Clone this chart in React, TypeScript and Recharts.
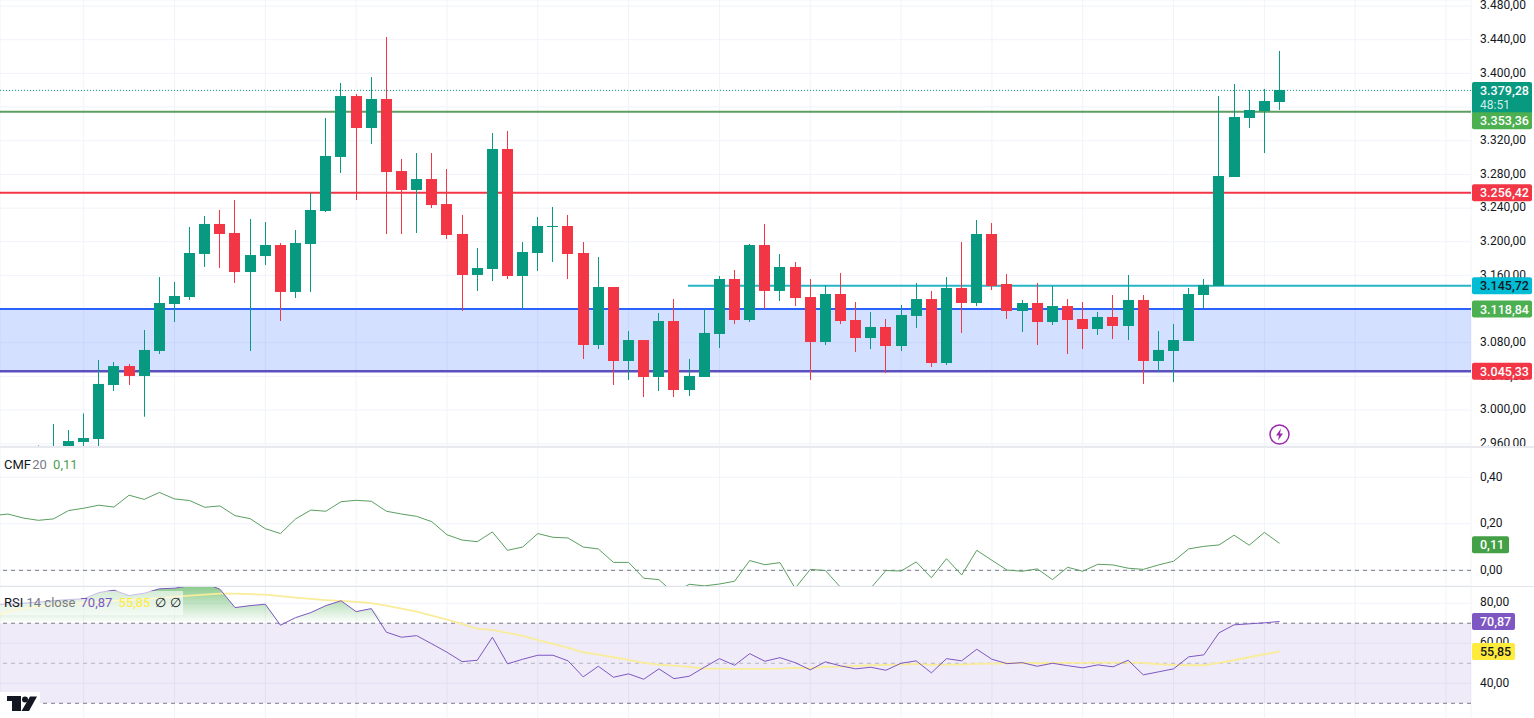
import { Area, Bar, CartesianGrid, ComposedChart, Line, ReferenceArea, ReferenceLine, XAxis, YAxis } from 'recharts';

const FONT = 'Roboto, sans-serif';
const TEXT = '#131722';
const GRID = '#f0f3fa';
const UP = '#089981';
const DOWN = '#f23645';

const opens = [
  2930, 2935, 2942, 2945, 2950, 2955, 2962.1, 2965.6, 3029.8, 3052.3, 3040.5, 3070.2, 3126, 3134.3, 3185.4, 3221.1, 3210.4, 3164,
  3183, 3196.1, 3140.3, 3197.3, 3236.5, 3300.7, 3373.1, 3335.1, 3369.6, 3284, 3261.5, 3274.5, 3244.8, 3209.2, 3160.5, 3167.6,
  3310.2, 3159.3, 3186.6, 3217.5, 3218.7, 3186.6, 3077.3, 3146.2, 3058.3, 3083.2, 3039.3, 3105.8, 3023.8, 3039.3, 3090.4, 3155.7,
  3107, 3196.1, 3141.5, 3170, 3134.3, 3080.9, 3137.9, 3107, 3085.6, 3098.7, 3076.1, 3111.8, 3131.9, 3055.9, 3145, 3127.2,
  3209.2, 3149.8, 3117.7, 3127.2, 3104.6, 3123.6, 3108.2, 3096.3, 3110.6, 3099.9, 3130.8, 3058.3, 3070.2, 3082.1, 3136.7, 3147.4,
  3276.9, 3347, 3355.3, 3366,
];
const closes = [
  2935, 2942, 2945, 2950, 2955, 2963.2, 2966.8, 3031, 3052.3, 3040.5, 3071.4, 3127.2, 3135.5, 3186.6, 3221.1, 3209.2, 3164, 3184.2,
  3196.1, 3140.3, 3198.5, 3237.7, 3301.9, 3373.1, 3335.1, 3369.6, 3282.8, 3261.5, 3274.5, 3243.6, 3208, 3160.5, 3168.8, 3310.2,
  3159.3, 3187.8, 3218.7, 3218.7, 3185.4, 3077.3, 3146.2, 3058.3, 3083.2, 3039.3, 3105.8, 3023.8, 3040.5, 3091.6, 3155.7, 3107,
  3196.1, 3141.5, 3170, 3133.1, 3080.9, 3137.9, 3105.8, 3085.6, 3098.7, 3076.1, 3112.9, 3131.9, 3055.9, 3145, 3127.2, 3209.2,
  3147.4, 3117.7, 3127.2, 3104.6, 3123.6, 3107, 3096.3, 3110.6, 3099.9, 3130.8, 3058.3, 3071.4, 3083.2, 3137.9, 3148.6, 3278.1,
  3348.2, 3356.5, 3367.2, 3380.3,
];
const highs = [
  2940, 2948, 2950, 2958, 2983.4, 2976.3, 2996.1, 3059.5, 3057.1, 3054.7, 3095.1, 3158.1, 3152.2, 3217.5, 3230.6, 3237.7, 3249.6, 3227,
  3223.4, 3198.5, 3213.9, 3257.9, 3347, 3388.6, 3375.5, 3395.7, 3443.2, 3298.3, 3305.4, 3305.4, 3286.4, 3231.8, 3192.6, 3329.2,
  3331.6, 3199.7, 3229.4, 3241.3, 3231.8, 3199.7, 3181.9, 3146.2, 3093.9, 3083.2, 3115.3, 3131.9, 3060.7, 3120.1, 3159.3, 3166.4,
  3197.3, 3221.1, 3185.4, 3175.9, 3155.7, 3148.6, 3162.8, 3128.4, 3116.5, 3108.2, 3124.8, 3151, 3141.5, 3158.1, 3199.7, 3225.8,
  3222.2, 3161.7, 3130.8, 3151, 3147.4, 3131.9, 3128.4, 3116.5, 3136.7, 3160.5, 3136.7, 3093.9, 3102.2, 3145, 3155.7, 3373.1,
  3387.4, 3380.3, 3381.5, 3426.6,
];
const lows = [
  2920, 2925, 2935, 2940, 2945, 2950, 2954.5, 2954.5, 3022.6, 3029.8, 2992.1, 3066.6, 3104.6, 3130.8, 3170, 3168.8, 3151, 3070.2,
  3172.3, 3105.8, 3133.1, 3140.3, 3235.3, 3281.7, 3249.6, 3316.1, 3209.2, 3209.2, 3210.4, 3240.1, 3203.2, 3117.7, 3141.5, 3153.3,
  3155.7, 3120.1, 3165.2, 3175.9, 3155.7, 3060.7, 3072.5, 3029.8, 3035.7, 3015.5, 3022.6, 3015.5, 3016.7, 3039.3, 3073.7, 3102.2,
  3104.6, 3120.1, 3129.6, 3123.6, 3035.7, 3077.3, 3102.2, 3069, 3072.5, 3044, 3070.2, 3097.5, 3051.2, 3053.5, 3091.6, 3123.6,
  3142.6, 3108.2, 3092.7, 3077.3, 3101.1, 3066.6, 3072.5, 3089.2, 3084.4, 3083.2, 3031, 3045.2, 3033.3, 3082.1, 3121.3, 3147.4,
  3276.9, 3335.1, 3305.4, 3356.5,
];
const cmfValues = [
  0.235, 0.242, 0.225, 0.215, 0.221, 0.257, 0.267, 0.28, 0.272, 0.323, 0.305, 0.335, 0.307, 0.3, 0.271, 0.277, 0.235, 0.222,
  0.179, 0.158, 0.221, 0.259, 0.254, 0.295, 0.301, 0.297, 0.254, 0.242, 0.232, 0.209, 0.153, 0.13, 0.123, 0.165,
  0.086, 0.1, 0.158, 0.142, 0.139, 0.1, 0.092, 0.034, 0.034, -0.034, -0.04, -0.099, -0.06, -0.067, -0.059, -0.047,
  0.042, 0.024, 0.033, -0.077, 0.004, -0.001, -0.073, -0.12, -0.076, -0.001, -0.003, 0.036, -0.032, 0.05, -0.02, 0.086,
  0.043, 0.001, -0.004, 0.006, -0.04, 0.013, -0.004, 0.026, 0.023, 0.009, 0.004, 0.023, 0.039, 0.092, 0.103, 0.109,
  0.151, 0.108, 0.163, 0.116,
];
const rsiValues = [
  79.2, 79.7, 80, 80.5, 81.3, 81.8, 82.2, 85.3, 86.5, 83.8, 85, 87.2, 87.5, 88.7, 90, 87, 77.8, 78.8,
  79.5, 69, 72.8, 75.3, 78.8, 81.2, 75.8, 77.3, 65.5, 63, 63.8, 59.7, 55.5, 50.8, 51.5, 63,
  49.7, 52, 54, 54, 51.2, 43.2, 48.5, 43, 44.7, 42, 47.2, 42.3, 43.5, 48, 52.3, 49,
  54.8, 51, 52.8, 50.3, 46.7, 50.7, 48.7, 47.2, 48, 46.5, 50, 51.2, 45.2, 52.3, 51.2, 57,
  52, 49.8, 50.3, 48.5, 50, 48.8, 47.7, 49.2, 48.2, 51.5, 44.2, 45.7, 47.2, 53.2, 54.2, 65.2,
  69.2, 69.7, 70.2, 70.87,
];
const rsiMaValues = [
  72.8, 75.8, 77.3, 78.3, 79, 79.5, 80, 80.7, 81.2, 81.7, 82.2, 82.5, 83.2, 83.8, 84.3, 84.8, 84.8, 84.5,
  84.3, 83.5, 82.8, 82.2, 81.5, 81.2, 80.7, 80, 78.8, 77.3, 75.8, 73.8, 71.8, 69.7, 67.2, 66.7,
  65.2, 63.7, 61.5, 59.7, 57.7, 55.5, 54.3, 53, 51.7, 50.2, 49.3, 48.8, 48.2, 47.3, 47.3, 47.2,
  47.2, 47.2, 47.3, 47.7, 47.5, 48.2, 48.3, 48.7, 49, 49.2, 49.3, 49.7, 49.2, 49.3, 49.3, 49.7,
  49.8, 50, 50.2, 50, 50.2, 50.2, 50.2, 50.3, 50.3, 50.3, 50.2, 49.5, 49.2, 49, 49, 50.2,
  51.5, 53, 54.5, 55.85,
];

const timeTicks = [5, 11, 17, 23, 29, 35, 41, 47, 53, 59, 65, 71, 77, 83, 89, 95];
const priceTicks = [2960, 3000, 3040, 3080, 3120, 3160, 3200, 3240, 3280, 3320, 3360, 3400, 3440, 3480];
const cmfTicks = [0, 0.2, 0.4];
const rsiTicks = [20, 40, 60, 80];

// first row sits one bar left of the visible area so the lines run in from the edge
const rows = opens.map((open, n) => ({
  i: n - 1,
  open,
  close: closes[n],
  high: highs[n],
  low: lows[n],
  cmf: cmfValues[n],
  rsi: rsiValues[n],
  rsiMa: rsiMaValues[n],
}));

const X_DOMAIN: [number, number] = [-0.528, 96.65];
const PRICE_DOMAIN: [number, number] = [2957.3, 3487.2];
const CMF_DOMAIN: [number, number] = [-0.0675, 0.5303];
const RSI_DOMAIN: [number, number] = [16.65, 88.6];
const AXIS_WIDTH = 63;

const fmtPrice = (v: number) => {
  const [a, b] = v.toFixed(2).split('.');
  return `${a.slice(0, -3)}.${a.slice(-3)},${b}`;
};
const fmtComma = (v: number) => v.toFixed(2).replace('.', ',');

function Candle(props: any) {
  const { x, y, width, height, payload } = props;
  const { open, close, high, low } = payload;
  const color = close >= open ? UP : DOWN;
  const perUnit = height / (high - low);
  const top = y + (high - Math.max(open, close)) * perUnit;
  const bottom = y + (high - Math.min(open, close)) * perUnit;
  const left = Math.round(x);
  return (
    <g>
      <rect x={left + 5} y={y} width={1} height={height} fill={color} />
      <rect x={left} y={top} width={11} height={Math.max(bottom - top, 1)} fill={color} />
    </g>
  );
}

// tag on the right scale, follows the y of its reference line
function tag(text: string, fill: string, color = '#fff', w = 60, shift = 0, sub?: string) {
  return (p: any) => {
    const cy = p.viewBox.y + shift;
    const h = 17;
    return (
      <g>
        <rect x={1472} y={cy - h / 2} width={w} height={sub ? 32 : h} rx={2} fill={fill} />
        <text x={1480} y={cy + 4.5} fontSize={12.5} fontWeight={500} fontFamily={FONT} fill={color}>
          {text}
        </text>
        {sub && (
          <text x={1480} y={cy + 18.5} fontSize={12} fontFamily={FONT} fill="#cfeee8">
            {sub}
          </text>
        )}
      </g>
    );
  };
}

const tickStyle = { fontSize: 12, fill: TEXT, fontFamily: FONT, dy: -1 };

function scale(domain: [number, number], ticks: number[], fmt: (v: number) => string) {
  return (
    <YAxis
      orientation="right"
      width={AXIS_WIDTH}
      domain={domain}
      ticks={ticks}
      interval={0}
      allowDataOverflow
      axisLine={false}
      tickLine={false}
      tickSize={0}
      tickMargin={9}
      tick={tickStyle}
      tickFormatter={fmt}
    />
  );
}

const timeAxis = <XAxis dataKey="i" type="number" domain={X_DOMAIN} ticks={timeTicks} allowDataOverflow hide />;

// second layer on top of a pane: same scales, no ticks. The tags must cover the tick labels
function TopLayer({ height, domain, children }: any) {
  return (
    <div style={{ position: 'absolute', left: 0, top: 0 }}>
      <ComposedChart width={1534} height={height} data={rows} margin={{ top: 0, right: AXIS_WIDTH, bottom: 0, left: 0 }}>
        {timeAxis}
        <YAxis hide domain={domain} allowDataOverflow />
        {children}
      </ComposedChart>
    </div>
  );
}

function PricePane() {
  return (
    <>
      <ComposedChart width={1534} height={446} data={rows} margin={{ top: 0, right: 0, bottom: 0, left: 0 }}>
        <CartesianGrid stroke={GRID} strokeWidth={1} />
        {timeAxis}
        {scale(PRICE_DOMAIN, priceTicks, fmtPrice)}
        <ReferenceArea y1={3046} y2={3120} fill="#2962ff" fillOpacity={0.2} stroke="none" />
        <ReferenceLine y={3354.5} stroke="#5b9e5f" strokeWidth={2} />
        <ReferenceLine y={3258.3} stroke={DOWN} strokeWidth={2} />
        <ReferenceLine
          segment={[
            { x: 44.92, y: 3147.8 },
            { x: X_DOMAIN[1], y: 3147.8 },
          ]}
          stroke="#26b5c6"
          strokeWidth={2}
        />
        <ReferenceLine y={3120} stroke="#2962ff" strokeWidth={2} />
        <ReferenceLine y={3046} stroke="#5c4fc0" strokeWidth={2.5} />
      </ComposedChart>
      <TopLayer height={446} domain={PRICE_DOMAIN}>
        <Bar dataKey={(d: any) => [d.low, d.high]} barSize={11} shape={<Candle />} isAnimationActive={false} />
        <ReferenceLine y={3379.8} stroke={UP} strokeDasharray="1 2" />
        <ReferenceLine y={3379.8} stroke="none" label={tag('3.379,28', UP, '#fff', 60, 0, '48:51')} />
        <ReferenceLine y={3354.5} stroke="none" label={tag('3.353,36', '#4caf50', '#fff', 60, 9)} />
        <ReferenceLine y={3258.3} stroke="none" label={tag('3.256,42', DOWN)} />
        <ReferenceLine y={3147.8} stroke="none" label={tag('3.145,72', '#00bcd4', TEXT)} />
        <ReferenceLine y={3120} stroke="none" label={tag('3.118,84', '#4caf50')} />
        <ReferenceLine y={3046} stroke="none" label={tag('3.045,33', DOWN)} />
      </TopLayer>
    </>
  );
}

function CmfPane() {
  return (
    <>
      <ComposedChart width={1534} height={139} data={rows} margin={{ top: 0, right: 0, bottom: 0, left: 0 }}>
        <CartesianGrid stroke={GRID} strokeWidth={1} />
        {timeAxis}
        {scale(CMF_DOMAIN, cmfTicks, fmtComma)}
        <ReferenceLine y={0} stroke="#787b86" strokeDasharray="4 4" />
        <Line dataKey="cmf" stroke="#5b9e5f" strokeWidth={1} dot={false} isAnimationActive={false} />
      </ComposedChart>
      <TopLayer height={139} domain={CMF_DOMAIN}>
        <ReferenceLine y={0.11} stroke="none" label={tag('0,11', '#43a047', '#fff', 37)} />
      </TopLayer>
    </>
  );
}

function RsiPane() {
  return (
    <>
      <ComposedChart width={1534} height={144} data={rows} margin={{ top: 0, right: 0, bottom: 0, left: 0 }}>
        <defs>
          <linearGradient id="overbought" x1="0" y1="0" x2="0" y2="1">
            <stop offset="0%" stopColor="#4caf50" stopOpacity={0.7} />
            <stop offset="100%" stopColor="#4caf50" stopOpacity={0} />
          </linearGradient>
        </defs>
        <CartesianGrid stroke={GRID} strokeWidth={1} />
        {timeAxis}
        {scale(RSI_DOMAIN, rsiTicks, fmtComma)}
        <ReferenceArea y1={30} y2={70} fill="#7e57c2" fillOpacity={0.12} stroke="none" />
        <ReferenceLine y={70} stroke="#787b86" strokeDasharray="4 4" />
        <ReferenceLine y={50} stroke="#b2b5be" strokeDasharray="4 4" />
        <ReferenceLine y={30} stroke="#787b86" strokeDasharray="4 4" />
        <Area
          dataKey={(d: any) => [70, Math.max(d.rsi, 70)]}
          stroke="none"
          fill="url(#overbought)"
          fillOpacity={1}
          dot={false}
          activeDot={false}
          isAnimationActive={false}
        />
        <Line dataKey="rsiMa" stroke="#f9ec9a" strokeWidth={1.8} dot={false} isAnimationActive={false} />
        <Line dataKey="rsi" stroke="#7e57c2" strokeWidth={1} dot={false} isAnimationActive={false} />
      </ComposedChart>
      <TopLayer height={144} domain={RSI_DOMAIN}>
        <ReferenceLine y={70.87} stroke="none" label={tag('70,87', '#7e57c2', '#fff', 43)} />
        <ReferenceLine y={55.85} stroke="none" label={tag('55,85', '#ffeb3b', TEXT, 43)} />
      </TopLayer>
    </>
  );
}

const legendBase = {
  position: 'absolute' as const,
  left: 4,
  fontFamily: FONT,
  fontSize: 13,
  lineHeight: '18px',
  whiteSpace: 'pre' as const,
};

export default function App() {
  return (
    <div style={{ position: 'fixed', inset: 0, width: 1534, height: 718, overflow: 'hidden', background: '#fff' }}>
      <div style={{ position: 'absolute', left: 0, top: 0 }}>
        <PricePane />
      </div>
      <div style={{ position: 'absolute', left: 0, top: 447 }}>
        <CmfPane />
      </div>
      <div style={{ position: 'absolute', left: 0, top: 586 }}>
        <RsiPane />
      </div>
      <div style={{ position: 'absolute', left: 0, top: 446, width: 1534, height: 2, background: '#e8eaf0' }} />
      <div style={{ position: 'absolute', left: 0, top: 586, width: 1534, height: 1, background: '#e0e3eb' }} />

      <div style={{ ...legendBase, top: 456, color: TEXT }}>
        CMF <span style={{ color: '#787b86', marginLeft: -2 }}>20</span>{' '}
        <span style={{ color: '#4c9e50', marginLeft: 3 }}>0,11</span>
      </div>
      <div
        style={{
          position: 'absolute',
          left: 0,
          top: 591,
          width: 183,
          height: 24,
          background: 'rgba(255,255,255,0.6)',
        }}
      />
      <div style={{ ...legendBase, top: 594, color: TEXT }}>
        RSI <span style={{ color: '#787b86' }}>14 close</span> <span style={{ color: '#7e57c2', marginLeft: 2 }}>70,87</span>{' '}
        <span style={{ color: '#ffeb3b', marginLeft: 3 }}>55,85</span> <span style={{ marginLeft: 1 }}>∅</span>{' '}
        <span style={{ marginLeft: 1 }}>∅</span>
      </div>

      {/* event marker */}
      <svg style={{ position: 'absolute', left: 1268, top: 423 }} width={24} height={24}>
        <circle cx={11.5} cy={11.5} r={9.5} fill="#fff" stroke="#9c27b0" strokeWidth={1.5} />
        <path d="M13 5.5 L8 12.5 L11 12.5 L10 17.5 L15 10.5 L12 10.5 Z" fill="#9c27b0" />
      </svg>

      {/* logo */}
      <svg style={{ position: 'absolute', left: 0, top: 692 }} width={42} height={26}>
        <rect width={40} height={26} fill="#fff" />
        <path d="M7 4 H21 V19 H12 V9 H7 Z" fill="#131722" />
        <circle cx={25} cy={7.5} r={3} fill="#131722" />
        <path d="M30 4.5 H37 L29 19 H21.5 Z" fill="#131722" />
      </svg>
    </div>
  );
}
